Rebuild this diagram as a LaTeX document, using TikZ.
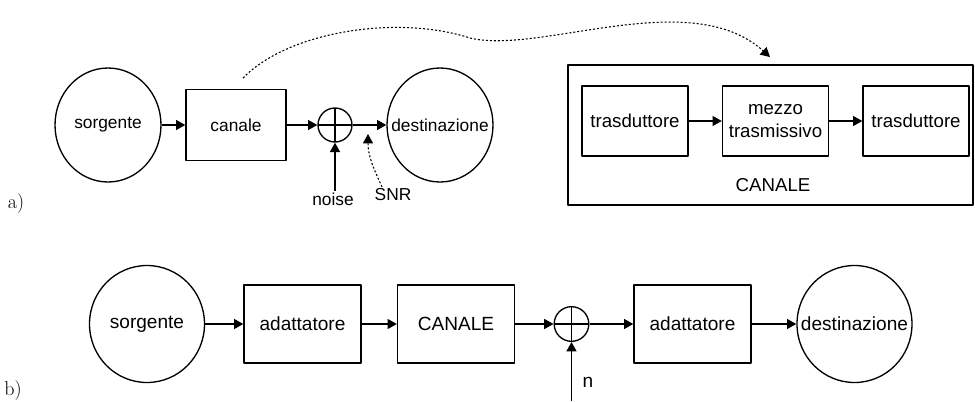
\documentclass[tikz,border=0pt]{standalone}
\usepackage{fontspec}
\setsansfont{Liberation Sans}
\usetikzlibrary{arrows.meta,shapes.geometric}
\begin{document}
\begin{tikzpicture}[x=0.75pt,y=-0.75pt, line join=round, line width=1pt,
    >={Triangle[length=7pt,width=7.5pt]},
    fa/.style={font=\sffamily\fontsize{13}{15}\selectfont},
    fc/.style={font=\sffamily\fontsize{14}{17}\selectfont},
    fb/.style={font=\sffamily\fontsize{14.3}{17}\selectfont},
    circ/.style={ellipse,draw,inner sep=0pt},
    blk/.style={draw,align=center,inner sep=1pt},
    adder/.style={circle,draw,minimum size=25.5pt,inner sep=0pt,
        path picture={\draw (path picture bounding box.north)--(path picture bounding box.south)
        (path picture bounding box.west)--(path picture bounding box.east);}},
    dots/.style={line width=0.8pt,dash pattern=on 1.5pt off 1.5pt}]
    \def\ctext#1{\makebox[0pt]{#1}}
    \useasboundingbox (0,0) rectangle (975,401);
    % a)
    \node[font=\fontsize{15}{17}\selectfont] (la) at (16,204) {a)};
    \node[circ,fa,minimum width=79.5pt,minimum height=85.5pt] (src) at (108,125) {\ctext{sorgente}};
    \node[blk,fa,minimum width=75pt,minimum height=53.25pt] (ch) at (236,125) {canale};
    \node[adder] (sum) at (335,125) {};
    \node[circ,fa,minimum width=79.5pt,minimum height=85.5pt] (dst) at (440,125) {\ctext{destinazione}};
    \node[fa,inner sep=1pt] (noise) at (333,199) {noise};
    \node[fa,inner sep=1pt] (snr) at (393,195) {SNR};
    \coordinate (snrpt) at (368,134);
    \draw[->] (src) -- (ch);
    \draw[->] (ch) -- (sum);
    \draw[->] (sum) -- (dst);
    \draw[->] (noise.north -| sum) -- (sum.south);
    \draw[dots,->] ([xshift=7pt]snr.north west) to[out=115,in=-90] (snrpt);
    % canale in dettaglio
    \node[draw,minimum width=303.75pt,minimum height=105pt] (big) at (770.5,135) {};
    \node[blk,fc,minimum width=79.5pt,minimum height=52.5pt] (t1) at (635,121) {trasduttore};
    \node[blk,fc,minimum width=79.5pt,minimum height=52.5pt] (mz) at (775.5,121) {mezzo\\trasmissivo};
    \node[blk,fc,minimum width=79.5pt,minimum height=52.5pt] (t2) at (916,121) {trasduttore};
    \node[fc] (lab) at (773,185) {CANALE};
    \draw[->] (t1) -- (mz);
    \draw[->] (mz) -- (t2);
    \coordinate (c1) at (243,78);
    \coordinate (c2) at (770,57);
    \draw[dots,->] (c1) .. controls (290,30) and (400,15) .. (470,38) .. controls (540,55) and (690,-15) .. (c2);
    % b)
    \node[font=\fontsize{15}{17}\selectfont] (lb) at (13,390) {b)};
    \node[circ,fb,minimum width=86.25pt,minimum height=87.75pt] (src2) at (147,324) {\ctext{sorgente}};
    \node[blk,fb,minimum width=87.75pt,minimum height=58.5pt] (ad1) at (302.5,324) {adattatore};
    \node[blk,fb,minimum width=87.75pt,minimum height=58.5pt] (ch2) at (456,324) {CANALE};
    \node[adder,minimum size=26pt] (sum2) at (571.5,324) {};
    \node[blk,fb,minimum width=87.75pt,minimum height=58.5pt] (ad2) at (692.5,324) {adattatore};
    \node[circ,fb,minimum width=86.25pt,minimum height=87.75pt] (dst2) at (854.5,324) {\ctext{destinazione}};
    \node[fb] (nlab) at (588,382) {n};
    \coordinate (nin) at (571.5,401);
    \draw[->] (src2) -- (ad1);
    \draw[->] (ad1) -- (ch2);
    \draw[->] (ch2) -- (sum2);
    \draw[->] (sum2) -- (ad2);
    \draw[->] (ad2) -- (dst2);
    \draw[->] (nin) -- (sum2.south);
\end{tikzpicture}
\end{document}
